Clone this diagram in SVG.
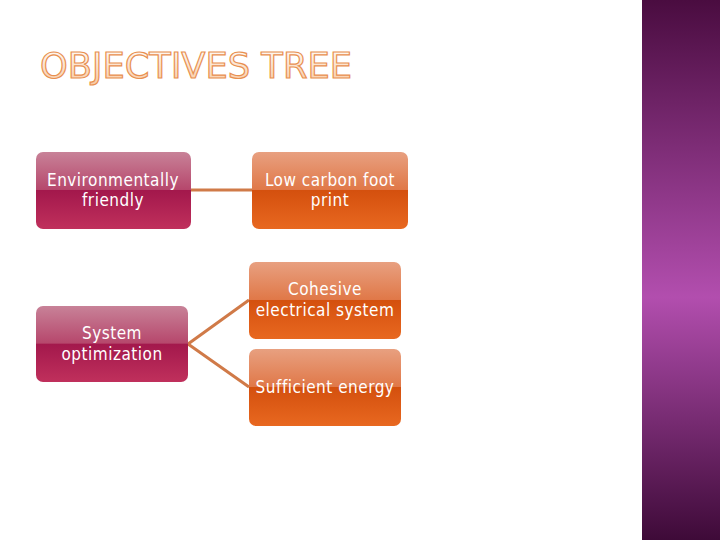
<svg xmlns="http://www.w3.org/2000/svg" width="720" height="540" viewBox="0 0 720 540">
<defs>
<linearGradient id="side" x1="0" y1="0" x2="0" y2="1">
<stop offset="0" stop-color="#4a0c40"/><stop offset="0.55" stop-color="#b24eae"/><stop offset="1" stop-color="#3e0a38"/>
</linearGradient>
<linearGradient id="mag" x1="0" y1="0" x2="0" y2="1">
<stop offset="0" stop-color="#c88298"/><stop offset="0.49" stop-color="#b6476c"/><stop offset="0.5" stop-color="#a3184c"/><stop offset="1" stop-color="#c0305c"/>
</linearGradient>
<linearGradient id="org" x1="0" y1="0" x2="0" y2="1">
<stop offset="0" stop-color="#e8a080"/><stop offset="0.49" stop-color="#e07848"/><stop offset="0.5" stop-color="#d4500e"/><stop offset="1" stop-color="#e86820"/>
</linearGradient>
<linearGradient id="tt" x1="0" y1="0" x2="0" y2="1">
<stop offset="0" stop-color="#ffffff"/><stop offset="1" stop-color="#f8c8a0"/>
</linearGradient>
</defs>
<style>
.lbl{font-family:"DejaVu Sans Condensed","DejaVu Sans",sans-serif;font-size:17px;letter-spacing:0.5px;fill:#fff;text-anchor:middle}
.con{stroke:#d07a48;stroke-width:3;fill:none}
</style>
<rect width="720" height="540" fill="#fff"/>
<rect x="642" y="0" width="78" height="540" fill="url(#side)"/>
<text x="40" y="78" font-family="'DejaVu Sans',sans-serif" font-size="36" fill="url(#tt)" stroke="#e89050" stroke-width="1.2" textLength="312" lengthAdjust="spacingAndGlyphs">OBJECTIVES TREE</text>
<g id="connectors">
<line class="con" x1="191" y1="190" x2="252" y2="190"/>
<polyline class="con" points="249,300 188,344 249,387"/>
</g>
<g id="env"><rect x="36" y="152" width="155" height="77" rx="7" fill="url(#mag)"/><text class="lbl" x="113" y="186">Environmentally</text><text class="lbl" x="113" y="206">friendly</text></g>
<g id="low"><rect x="252" y="152" width="156" height="77" rx="7" fill="url(#org)"/><text class="lbl" x="330" y="186">Low carbon foot</text><text class="lbl" x="330" y="206">print</text></g>
<g id="cohesive"><rect x="249" y="262" width="152" height="77" rx="7" fill="url(#org)"/><text class="lbl" x="325" y="295">Cohesive</text><text class="lbl" x="325" y="316">electrical system</text></g>
<g id="system"><rect x="36" y="306" width="152" height="76" rx="7" fill="url(#mag)"/><text class="lbl" x="112" y="339">System</text><text class="lbl" x="112" y="360">optimization</text></g>
<g id="sufficient"><rect x="249" y="349" width="152" height="77" rx="7" fill="url(#org)"/><text class="lbl" x="325" y="393">Sufficient energy</text></g>
</svg>
